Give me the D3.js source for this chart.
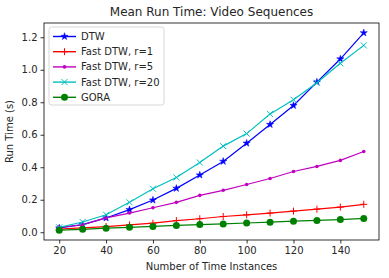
<!DOCTYPE html>
<html>
<head>
<meta charset="utf-8">
<script src="https://cdn.jsdelivr.net/npm/d3@7"></script>
<style>
  body { margin: 0; background: #fff; }
  svg text { font-family: "DejaVu Sans", sans-serif; fill: #262626; }
</style>
</head>
<body>
<div id="chart"></div>
<script>
// Mean run time vs number of time instances
const sizes = [20, 30, 40, 50, 60, 70, 80, 90, 100, 110, 120, 130, 140, 150];
const dtw = [0.026, 0.047, 0.088, 0.139, 0.198, 0.27, 0.352, 0.436, 0.548, 0.663, 0.78, 0.924, 1.066, 1.227];
const fastR1 = [0.02, 0.027, 0.035, 0.045, 0.056, 0.072, 0.083, 0.097, 0.107, 0.118, 0.13, 0.142, 0.155, 0.172];
const fastR5 = [0.03, 0.046, 0.088, 0.118, 0.151, 0.184, 0.227, 0.258, 0.294, 0.331, 0.374, 0.405, 0.442, 0.497];
const fastR20 = [0.03, 0.063, 0.108, 0.184, 0.268, 0.337, 0.429, 0.53, 0.607, 0.728, 0.816, 0.92, 1.04, 1.15];
const gora = [0.013, 0.018, 0.025, 0.03, 0.036, 0.042, 0.047, 0.051, 0.057, 0.062, 0.068, 0.073, 0.078, 0.085];

const xTicks = [20, 40, 60, 80, 100, 120, 140];
const yTicks = [0.0, 0.2, 0.4, 0.6, 0.8, 1.0, 1.2];

const series = [
  { name: "DTW", values: dtw, color: "#0000ff", marker: "star" },
  { name: "Fast DTW, r=1", values: fastR1, color: "#ff0000", marker: "plus" },
  { name: "Fast DTW, r=5", values: fastR5, color: "#bf00bf", marker: "point" },
  { name: "Fast DTW, r=20", values: fastR20, color: "#00bfbf", marker: "x" },
  { name: "GORA", values: gora, color: "#008000", marker: "circle" },
];

const W = 389, H = 278;
const pad = { left: 44, right: 10, top: 23, bottom: 38 };
const innerW = W - pad.left - pad.right;
const innerH = H - pad.top - pad.bottom;

const svg = d3.select("#chart").append("svg").attr("width", W).attr("height", H);

// Matplotlib-style 5% margins around the data
const allY = series.flatMap((s) => s.values);
const [yMin, yMax] = d3.extent(allY);
const yPad = (yMax - yMin) * 0.05;
const xPad = (150 - 20) * 0.05;

const x = d3.scaleLinear().domain([20 - xPad, 150 + xPad]).range([0, innerW]);
const y = d3.scaleLinear().domain([yMin - yPad, yMax + yPad]).range([innerH, 0]);

const g = svg.append("g").attr("transform", `translate(${pad.left},${pad.top})`);

// Axes
const gx = g.append("g").attr("transform", `translate(0,${innerH})`)
  .call(d3.axisBottom(x).tickValues(xTicks).tickSize(3.5).tickPadding(3));
const gy = g.append("g")
  .call(d3.axisLeft(y).tickValues(yTicks).tickSize(3.5).tickPadding(3).tickFormat(d3.format(".1f")));
[gx, gy].forEach((a) => {
  a.select(".domain").remove();
  a.selectAll(".tick line").attr("stroke", "#000").attr("stroke-width", 0.8);
  a.selectAll(".tick text").attr("font-size", 10).attr("fill", "#262626")
    .attr("font-family", "DejaVu Sans, sans-serif");
});

// Marker shapes
function marker(sel, type, color) {
  if (type === "star") {
    sel.append("path").attr("d", d3.symbol(d3.symbolStar, 16)())
      .attr("fill", color).attr("stroke", color).attr("stroke-width", 0.5);
  } else if (type === "plus") {
    sel.append("path").attr("d", "M-3.5,0H3.5M0,-3.5V3.5").attr("stroke", color).attr("stroke-width", 1);
  } else if (type === "x") {
    sel.append("path").attr("d", "M-3,-3L3,3M-3,3L3,-3").attr("stroke", color).attr("stroke-width", 1);
  } else if (type === "point") {
    sel.append("circle").attr("r", 1.8).attr("fill", color);
  } else if (type === "circle") {
    sel.append("circle").attr("r", 3.5).attr("fill", color);
  }
}

const line = d3.line().x((d, i) => x(sizes[i])).y((d) => y(d));

series.forEach((s) => {
  const sg = g.append("g");
  sg.append("path").datum(s.values).attr("d", line)
    .attr("fill", "none").attr("stroke", s.color).attr("stroke-width", 1.2);
  sg.selectAll("g.m").data(s.values).join("g").attr("class", "m")
    .attr("transform", (d, i) => `translate(${x(sizes[i])},${y(d)})`)
    .each(function () { marker(d3.select(this), s.marker, s.color); });
});

// Frame
g.append("rect").attr("width", innerW).attr("height", innerH)
  .attr("fill", "none").attr("stroke", "#000").attr("stroke-width", 0.8);

// Legend
const lg = g.append("g").attr("transform", "translate(5,4)");
lg.append("rect").attr("width", 115).attr("height", 78).attr("rx", 2.5)
  .attr("fill", "#fff").attr("fill-opacity", 0.8).attr("stroke", "#ccc").attr("stroke-width", 0.8);
series.forEach((s, i) => {
  const row = lg.append("g").attr("transform", `translate(0,${9.5 + i * 15.2})`);
  row.append("line").attr("x1", 4).attr("x2", 27).attr("stroke", s.color).attr("stroke-width", 1.4);
  const m = row.append("g").attr("transform", "translate(15.5,0)");
  marker(m, s.marker, s.color);
  row.append("text").attr("x", 32).attr("dy", "0.35em").attr("font-size", 10).text(s.name);
});

// Labels
svg.append("text").attr("x", pad.left + innerW / 2).attr("y", 16)
  .attr("text-anchor", "middle").attr("font-size", 12).text("Mean Run Time: Video Sequences");
svg.append("text").attr("x", pad.left + innerW / 2).attr("y", 270)
  .attr("text-anchor", "middle").attr("font-size", 10).text("Number of Time Instances");
svg.append("text").attr("transform", `translate(13,${pad.top + innerH / 2}) rotate(-90)`)
  .attr("text-anchor", "middle").attr("font-size", 10).text("Run Time (s)");
</script>
</body>
</html>
